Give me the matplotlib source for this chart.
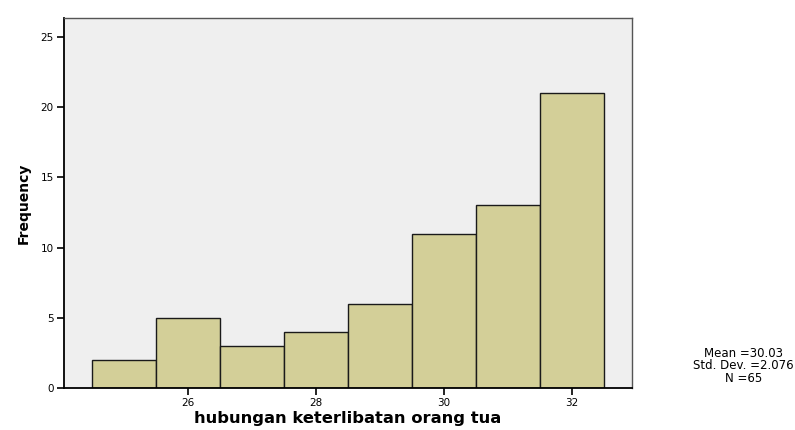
import numpy as np
import matplotlib.pyplot as plt

plt.rcParams['font.family'] = ['DejaVu Sans']

# frequencies per score value
scores = [25, 26, 27, 28, 29, 30, 31, 32]
freq = [2, 5, 3, 4, 6, 11, 13, 21]
xticks = [26, 28, 30, 32]
yticks = [0, 5, 10, 15, 20, 25]
stats_text = "Mean =30.03\nStd. Dev. =2.076\nN =65"

fig = plt.figure(figsize=(7.95, 4.3), dpi=100)
ax = fig.add_axes([0.0799, 0.097, 0.715, 0.862])
ax.set_facecolor('#efefef')

ax.bar(scores, freq, width=1.0, color='#d3cf98', edgecolor='#1a1a1a',
       linewidth=1.0, zorder=2)

ax.set_xlim(24.06, 32.94)
ax.set_ylim(0, 26.36)
ax.set_xticks(xticks)
ax.set_yticks(yticks)
ax.tick_params(axis='both', direction='out', length=5, width=1.2,
               labelsize=7.5, color='black', pad=2)

for side in ['left', 'bottom']:
    ax.spines[side].set_linewidth(1.3)
    ax.spines[side].set_color('black')
for side in ['top', 'right']:
    ax.spines[side].set_linewidth(1.0)
    ax.spines[side].set_color('#555555')

ax.set_xlabel('hubungan keterlibatan orang tua', fontsize=11.8, fontweight='bold',
              labelpad=2)
ax.set_ylabel('Frequency', fontsize=10, fontweight='bold', labelpad=7)

fig.text(0.935, 0.149, stats_text, ha='center', va='center', fontsize=8.5,
         linespacing=0.95)

fig.savefig('out.png', dpi=100)
